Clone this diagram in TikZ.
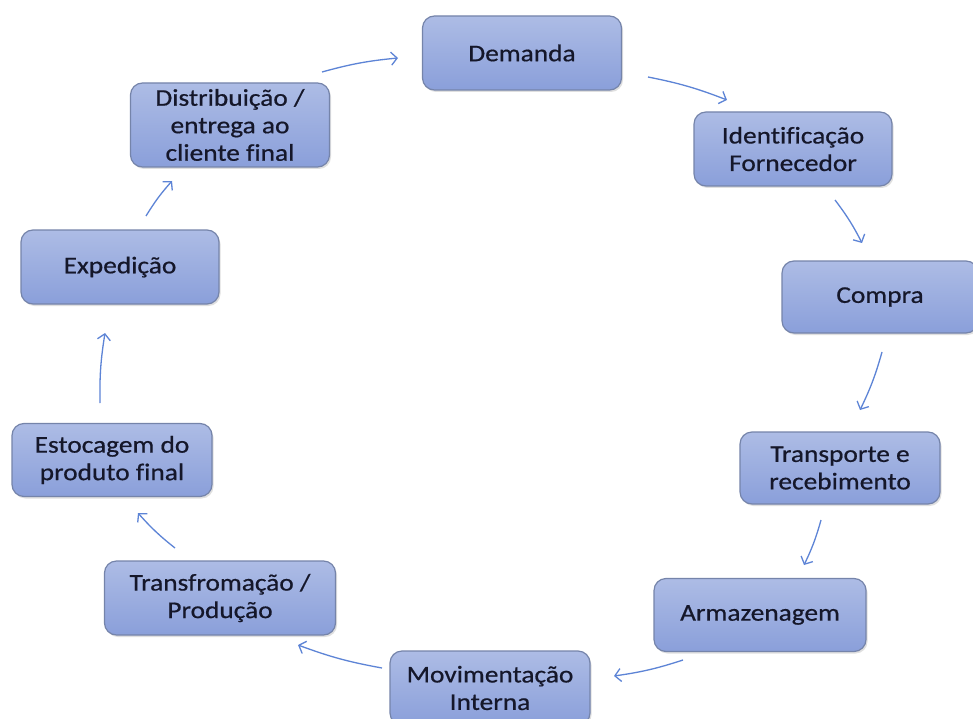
\documentclass[tikz,border=0pt]{standalone}
\usepackage{fontspec}
\setmainfont{Carlito}[FakeStretch=1.14,FakeBold=0.6,Ligatures=NoCommon]
\usetikzlibrary{arrows.meta,shadows}
\definecolor{boxtop}{HTML}{ADBCE5}
\definecolor{boxbot}{HTML}{8A9FDA}
\definecolor{boxline}{HTML}{7584AA}
\definecolor{arr}{HTML}{5D84D6}
\definecolor{txt}{HTML}{15172A}
\begin{document}
\begin{tikzpicture}[x=1pt,y=-1pt,
  box/.style={draw=boxline, line width=1.2pt, rounded corners=12pt,
    top color=boxtop, bottom color=boxbot, align=center, text=txt,
    font=\fontsize{24}{27.5}\selectfont, inner sep=0pt,
    drop shadow={shadow xshift=1.5pt, shadow yshift=-2pt, opacity=0.25}},
  conn/.style={draw=arr, line width=1.3pt, -{Straight Barb[length=6pt,width=13pt,line width=1.3pt]}}]
\useasboundingbox[fill=white] (0,0) rectangle (973,719);
\node[box, minimum width=199pt, minimum height=74pt] (dem) at (522,53) {Demanda};
\node[box, minimum width=198pt, minimum height=74pt] (ide) at (793,149) {Identificação\\Fornecedor};
\node[box, minimum width=196pt, minimum height=72pt] (com) at (880,297) {Compra};
\node[box, minimum width=200pt, minimum height=72pt] (tra) at (840,468) {Transporte e\\recebimento};
\node[box, minimum width=212pt, minimum height=73pt] (arm) at (760,615) {Armazenagem};
\node[box, minimum width=200pt, minimum height=74pt] (mov) at (490,688) {Movimentação\\Interna};
\node[box, minimum width=231pt, minimum height=74pt] (tfp) at (220,598) {Transfromação /\\Produção};
\node[box, minimum width=200pt, minimum height=73pt] (est) at (112,460) {Estocagem do\\produto final};
\node[box, minimum width=198pt, minimum height=74pt] (exp) at (120,267) {Expedição};
\node[box, minimum width=199pt, minimum height=84pt] (dis) at (230,125) {Distribuição /\\entrega ao\\cliente final};
\coordinate (a1s) at (322,72);  \coordinate (a1e) at (398,58);
\coordinate (a2s) at (648,77);  \coordinate (a2e) at (727,100);
\coordinate (a3s) at (835,200); \coordinate (a3e) at (862,243);
\coordinate (a4s) at (882,352); \coordinate (a4e) at (860,410);
\coordinate (a5s) at (821,520); \coordinate (a5e) at (804,565);
\coordinate (a6s) at (683,660); \coordinate (a6e) at (614,676);
\coordinate (a7s) at (382,668); \coordinate (a7e) at (298,645);
\coordinate (a8s) at (175,548); \coordinate (a8e) at (138,513);
\coordinate (a9s) at (100,403); \coordinate (a9e) at (105,333);
\coordinate (a10s) at (146,216); \coordinate (a10e) at (172,181);
\draw[conn] (a1s) to[bend left=5] (a1e);
\draw[conn] (a2s) to[bend left=5] (a2e);
\draw[conn] (a3s) to[bend left=5] (a3e);
\draw[conn] (a4s) to[bend left=5] (a4e);
\draw[conn] (a5s) to[bend left=5] (a5e);
\draw[conn] (a6s) to[bend left=5] (a6e);
\draw[conn] (a7s) to[bend left=5] (a7e);
\draw[conn] (a8s) to[bend left=5] (a8e);
\draw[conn] (a9s) to[bend left=5] (a9e);
\draw[conn] (a10s) to[bend left=5] (a10e);
\end{tikzpicture}
\end{document}
